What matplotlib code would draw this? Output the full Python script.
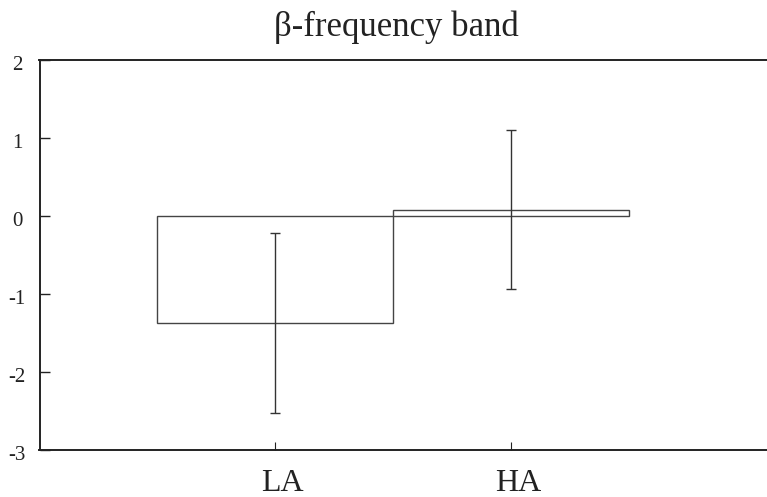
import matplotlib
matplotlib.use("Agg")
import matplotlib.pyplot as plt
from matplotlib.transforms import ScaledTranslation

# data
groups = ["LA", "HA"]
means = [-1.37, 0.07]
err_low = [-2.53, -0.94]
err_high = [-0.22, 1.10]
yticks = [-3, -2, -1, 0, 1, 2]

plt.rcParams['font.family'] = ['Liberation Serif', 'DejaVu Serif']

fig = plt.figure(figsize=(7.67, 4.97), dpi=100)
ax = fig.add_axes([39.5 / 767, 47 / 497, 1 - 39.5 / 767, 390.5 / 497])

x = list(range(len(groups)))
ax.bar(x, means, width=1.0, facecolor='white', edgecolor='#444444', linewidth=1.0)

lower = [m - lo for m, lo in zip(means, err_low)]
upper = [hi - m for m, hi in zip(means, err_high)]
ax.errorbar(x, means, yerr=[lower, upper], fmt='none', ecolor='#333333',
            elinewidth=1.0, capsize=3.6, capthick=1.0)

ax.set_xlim(-1.0, 2.085)
ax.set_ylim(-3, 2)
ax.set_xticks(x)
ax.set_xticklabels(groups, fontsize=23)
ax.set_yticks(yticks)
ax.set_yticklabels([str(t) for t in yticks], fontsize=15, ha='center')

ax.spines['right'].set_visible(False)
for s in ['left', 'top', 'bottom']:
    ax.spines[s].set_linewidth(1.4)
    ax.spines[s].set_color('#222222')

ax.tick_params(axis='y', direction='in', length=7, width=1.0, pad=16, colors='#222222')
ax.tick_params(axis='x', direction='in', length=6, width=0.8, pad=14, colors='#222222')

# labels in the reference sit a bit right of / below their ticks
for lab in ax.get_xticklabels():
    lab.set_transform(lab.get_transform() + ScaledTranslation(0.07, 0, fig.dpi_scale_trans))
for lab in ax.get_yticklabels():
    lab.set_transform(lab.get_transform() + ScaledTranslation(0, -0.03, fig.dpi_scale_trans))

ax.set_title("β-frequency band", fontsize=25, pad=17, color='#222222', x=0.4907)

fig.savefig("out.png", dpi=100)
